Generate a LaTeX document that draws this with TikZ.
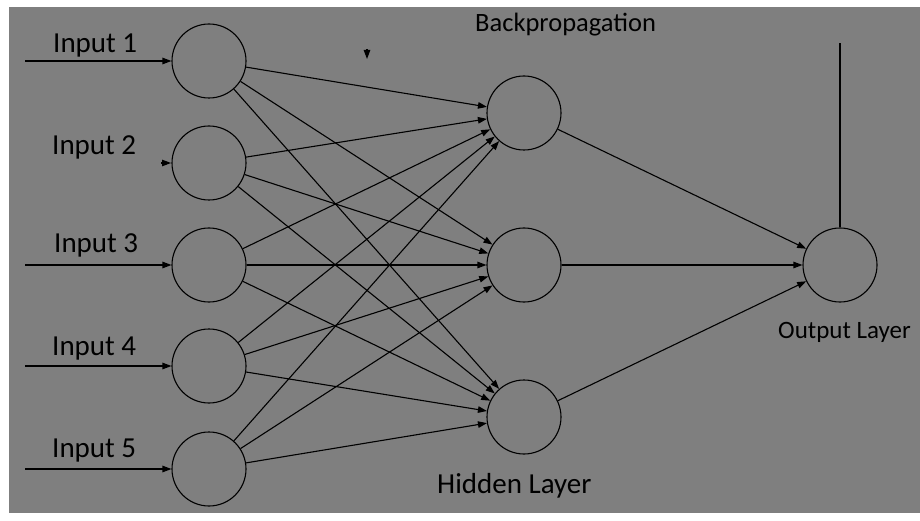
\documentclass[tikz,border=0pt]{standalone}
\usepackage{fontspec}
\setmainfont{Carlito}
\usetikzlibrary{arrows.meta}
\definecolor{bg}{RGB}{127,127,127}
\begin{document}
\begin{tikzpicture}[x=1pt,y=-1pt,
  neuron/.style={circle,draw=black,line width=1.1pt,minimum size=74pt,inner sep=0pt},
  conn/.style={line width=1.1pt,-{Triangle[length=9pt,width=6.5pt]}},
  plain/.style={line width=1.1pt},
  lbl/.style={anchor=base west,inner sep=0pt,font=\fontsize{29}{31}\selectfont},
  lblsmall/.style={anchor=base west,inner sep=0pt,font=\fontsize{26.5}{29}\selectfont},
  lblout/.style={anchor=base west,inner sep=0pt,font=\fontsize{25}{27}\selectfont}]
\useasboundingbox (0,0) rectangle (920,521);
\fill[white] (0,0) rectangle (920,521);
\fill[bg] (9,7) rectangle (920,513);
% neurons
\node[neuron] (in1) at (209,61) {};
\node[neuron] (in2) at (209,163) {};
\node[neuron] (in3) at (209,265) {};
\node[neuron] (in4) at (209,366) {};
\node[neuron] (in5) at (209,469) {};
\node[neuron] (h1) at (524,113) {};
\node[neuron] (h2) at (524,265) {};
\node[neuron] (h3) at (524,417) {};
\node[neuron] (out) at (840,265) {};
% labels
\node[lbl] (t1) at (53,53) {Input 1};
\node[lbl] (t2) at (52,155) {Input 2};
\node[lbl] (t3) at (54,252) {Input 3};
\node[lbl] (t4) at (52,355) {Input 4};
\node[lbl] (t5) at (52,457) {Input 5};
\node[lblsmall] (tb) at (475,32) {Backpropagation};
\node[lbl] (th) at (437,493) {Hidden Layer};
\node[lblout] (to) at (778,338) {Output Layer};
% input arrows
\coordinate (s1) at (25,61);
\coordinate (s3) at (25,265);
\coordinate (s4) at (25,366);
\coordinate (s5) at (25,469);
\draw[conn] (s1) -- (in1);
\draw[conn] (s3) -- (in3);
\draw[conn] (s4) -- (in4);
\draw[conn] (s5) -- (in5);
\coordinate (a2s) at (161,163);
\coordinate (a2e) at (171,163);
\draw[conn] (a2s) -- (a2e);
\coordinate (bs) at (367,49);
\coordinate (be) at (367,59);
\draw[conn] (bs) -- (be);
% input to hidden
\foreach \i in {1,...,5}{
  \foreach \j in {1,2,3}{
    \draw[conn] (in\i) -- (h\j);
  }
}
% hidden to output
\foreach \j in {1,2,3}{
  \draw[conn] (h\j) -- (out);
}
\coordinate (otop) at (840,43);
\draw[plain] (out) -- (otop);
\end{tikzpicture}
\end{document}
